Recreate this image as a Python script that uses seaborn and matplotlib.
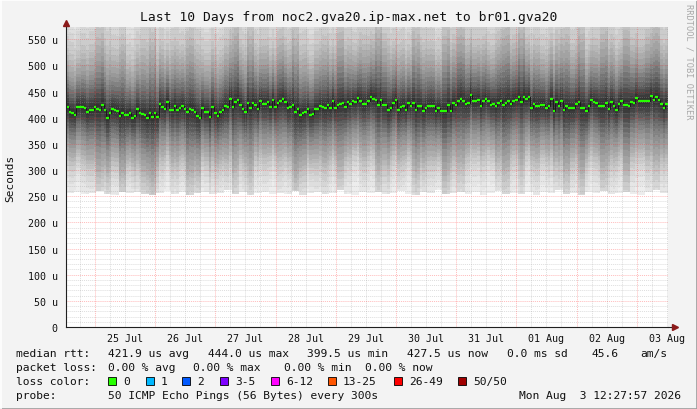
import numpy as np
import pandas as pd
import matplotlib
matplotlib.use("Agg")
import matplotlib.pyplot as plt
import matplotlib.dates as mdates
from matplotlib.ticker import MultipleLocator, FuncFormatter
from matplotlib.patches import Rectangle
from matplotlib.lines import Line2D
import seaborn as sns

# ---------------- data ----------------
title = "Last 10 Days from noc2.gva20.ip-max.net to br01.gva20"
start_time = "2026-07-24 12:28"
n_hours = 240

# hourly median RTT (microseconds), in four chunks of the time axis
median_a = [421.2, 411.0, 409.7, 405.9, 421.2, 421.2, 419.9, 418.6, 410.4, 415.5,
            415.5, 419.9, 416.7, 415.5, 425.0, 415.5, 400.2, 409.1, 416.1, 414.8,
            413.5, 404.0, 409.7, 405.3, 405.9, 409.7, 400.2, 402.7, 416.1, 408.4,
            407.2, 405.9, 400.2, 409.7, 402.1, 409.1, 401.4, 426.3, 421.2, 416.1,
            430.7, 414.8, 414.8, 422.5, 415.5, 418.6, 422.5, 416.1, 410.4, 416.7,
            414.8, 411.0, 404.0, 400.2, 418.6, 411.0, 411.6, 400.8, 421.2, 409.7,
            403.3, 411.0]
median_b = [415.5, 421.8, 419.9, 435.8, 419.9, 429.5, 434.6, 425.0, 416.7, 410.4,
            428.2, 418.6, 427.6, 425.0, 416.7, 431.4, 426.3, 426.3, 429.5, 419.9,
            433.9, 419.9, 428.2, 431.4, 435.8, 429.5, 418.6, 421.2, 425.0, 410.4,
            416.7, 405.3, 409.1, 410.4, 416.7, 405.9, 407.2, 416.7, 416.7, 422.5,
            419.9, 418.6, 425.0, 418.6, 431.4, 418.6, 425.0, 426.3, 428.2, 421.2,
            429.5, 426.3, 431.4, 429.5, 437.7, 432.7, 426.3, 426.3, 431.4, 440.3,
            435.8, 433.9]
median_c = [425.0, 434.6, 425.0, 425.0, 415.5, 418.6, 428.2, 434.6, 415.5, 419.9,
            423.1, 415.5, 428.2, 423.1, 428.2, 415.5, 423.1, 423.1, 413.5, 418.6,
            421.8, 423.1, 421.8, 412.3, 418.6, 413.5, 413.5, 413.5, 425.0, 413.5,
            428.2, 425.0, 432.7, 435.8, 431.4, 426.3, 428.2, 444.1, 431.4, 431.4,
            434.6, 423.1, 431.4, 435.8, 431.4, 425.0, 426.3, 421.8, 428.2, 432.7,
            425.0, 428.2, 431.4, 426.3, 432.7, 434.6, 440.3, 429.5, 440.3, 435.8,
            440.3, 418.6]
median_d = [426.3, 421.8, 423.1, 425.0, 425.0, 418.6, 423.1, 436.5, 412.3, 429.5,
            421.8, 432.7, 415.5, 421.8, 418.6, 418.6, 418.6, 426.3, 429.5, 418.0,
            418.6, 412.3, 423.1, 434.6, 429.5, 428.2, 423.1, 423.1, 423.1, 428.2,
            416.7, 429.5, 423.1, 415.5, 426.3, 431.4, 425.0, 425.0, 423.1, 429.5,
            428.2, 437.7, 431.4, 431.4, 432.7, 432.7, 432.7, 440.9, 434.6, 439.0,
            434.6, 426.3, 418.6, 426.3]

# lowest ping (bottom edge of the smoke), one value per 3 hours
rtt_min = [256, 258, 254, 257, 260, 255, 253, 258, 256, 259,
           254, 252, 257, 260, 255, 258, 253, 256, 259, 254,
           257, 261, 255, 258, 252, 256, 259, 254, 257, 255,
           260, 253, 256, 258, 254, 257, 261, 255, 252, 258,
           256, 259, 254, 257, 260, 255, 253, 258, 256, 262,
           254, 257, 259, 255, 258, 253, 256, 260, 254, 257,
           255, 259, 253, 258, 256, 261, 254, 257, 252, 258,
           256, 260, 254, 257, 259, 255, 253, 258, 262, 256]

# relative width of the smoke (darker streaks = wider), one value per 3 hours
smoke_spread = [0.9, 0.85, 0.95, 1.0, 1.25, 1.1, 0.95, 1.2, 0.9, 1.0,
                1.15, 1.3, 1.0, 0.9, 1.05, 0.95, 1.25, 1.1, 0.9, 1.0,
                0.95, 1.05, 1.3, 1.0, 1.25, 0.95, 1.0, 0.9, 1.1, 1.0,
                1.3, 1.05, 0.9, 1.0, 1.1, 0.95, 1.25, 1.0, 0.9, 1.05,
                1.0, 1.3, 1.1, 0.95, 1.0, 0.9, 1.25, 1.05, 1.0, 0.9,
                1.3, 1.05, 1.25, 1.0, 0.95, 1.0, 0.9, 1.1, 1.3, 1.0,
                1.25, 0.95, 1.05, 0.9, 1.0, 1.1, 1.25, 1.0, 1.3, 0.95,
                1.0, 1.25, 1.05, 0.95, 1.3, 1.0, 0.95, 1.1, 1.25, 1.0]

# smoke layers: gray level, distance below / above the median (us)
smoke_gray = [0.93, 0.90, 0.87, 0.84, 0.80, 0.76, 0.72, 0.68, 0.64, 0.60,
              0.56, 0.51, 0.46, 0.41, 0.36, 0.31, 0.27, 0.23, 0.20]
smoke_below = [None, 170, 152, 138, 126, 114, 104, 96, 86, 76,
               66, 57, 48, 40, 33, 26, 19, 12, 6]
smoke_above = [260, 220, 190, 170, 150, 125, 110, 98, 86, 74,
               66, 57, 48, 39, 31, 24, 18, 12, 7]

legend_rtt = [("median rtt:", 16.4), ("421.9 us avg", 107.6), ("444.0 us max", 207.6),
              ("399.5 us min", 306.7), ("427.5 us now", 406.7), ("0.0 ms sd", 506.7),
              ("45.6", 591.0), ("am/s", 640.0)]
legend_loss = [("packet loss:", 16.4), ("0.00 % avg", 107.6), ("0.00 % max", 193.0),
               ("0.00 % min", 284.4), ("0.00 % now", 365.0)]
loss_labels = ["0", "1", "2", "3-5", "6-12", "13-25", "26-49", "50/50"]
loss_colors = ["#26ff00", "#00b8ff", "#0059ff", "#7e00ff", "#ff00ff", "#ff5500", "#ff0000", "#a10000"]
loss_box_x = [108.4, 145.8, 182.0, 219.6, 270.7, 327.6, 393.8, 457.8]
probe_text = "50 ICMP Echo Pings (56 Bytes) every 300s"
stamp_text = "Mon Aug  3 12:27:57 2026"

# ---------------- figure ----------------
W, H = 697, 410
sns.set_style("white")
plt.rcParams["font.family"] = ["DejaVu Sans Mono", "DejaVu Sans"]

fig = plt.figure(figsize=(W / 100, H / 100), dpi=100, facecolor="#f3f3f3")


def fx(px):
    return px / W


def fy(py):
    return 1 - py / H


ax = fig.add_axes([fx(66), fy(328), 602 / W, 300 / H])
ax.set_facecolor("white")

hours = pd.date_range(start_time, periods=n_hours + 1, freq="h")
xe = mdates.date2num(hours.to_pydatetime())
med = np.array(median_a + median_b + median_c + median_d)
spread_h = np.repeat(np.array(smoke_spread), 3)
min_h = np.repeat(np.array(rtt_min, dtype=float), 3)

for g, lo, hi in zip(smoke_gray, smoke_below, smoke_above):
    if lo is None:
        low = min_h
    else:
        low = np.maximum(med - lo * spread_h, min_h)
    high = med + hi * spread_h
    ax.fill_between(xe, np.append(low, low[-1]), np.append(high, high[-1]),
                    step="post", color=str(g), lw=0, zorder=1)

# grid
ymax = 573.5
dot = (0, (1, 1))
for v in np.arange(10, ymax, 10):
    if v % 50:
        ax.axhline(v, color="#a0a0a0", alpha=0.35, lw=0.7, ls=dot, zorder=2)
six_h = pd.date_range(hours[0].ceil("6h"), hours[-1], freq="6h")
for t in six_h:
    if t.hour != 0:
        ax.axvline(mdates.date2num(t.to_pydatetime()), color="#a0a0a0", alpha=0.35, lw=0.7, ls=dot, zorder=2)
for v in np.arange(50, ymax, 50):
    ax.axhline(v, color="#ff2020", alpha=0.3, lw=0.7, ls=dot, zorder=2.1)
midnights = pd.date_range(hours[0].ceil("D"), hours[-1], freq="D")
for t in midnights:
    ax.axvline(mdates.date2num(t.to_pydatetime()), color="#ff2020", alpha=0.3, lw=0.7, ls=dot, zorder=2.1)

# median: dark connectors and green dashes
med_df = pd.DataFrame({"t": xe, "rtt": np.append(med, med[-1])})
sns.lineplot(data=med_df, x="t", y="rtt", drawstyle="steps-post", color="#1a1a1a",
             lw=0.7, estimator=None, ax=ax, zorder=3)
ax.hlines(med, xe[:-1], xe[1:], colors="#26ff00", lw=1.6, zorder=4)
ax.set_xlim(xe[0], xe[-1])
ax.set_ylim(0, ymax)
ax.yaxis.set_major_locator(MultipleLocator(50))
ax.yaxis.set_minor_locator(MultipleLocator(10))
ax.yaxis.set_major_formatter(FuncFormatter(lambda v, _: "0" if v == 0 else f"{v:.0f} u"))
ax.xaxis.set_major_locator(mdates.HourLocator(byhour=[12]))
ax.xaxis.set_major_formatter(mdates.DateFormatter("%d %b"))
ax.set_xlabel("")
ax.set_ylabel("")

for s in ["top", "right"]:
    ax.spines[s].set_visible(False)
for s in ["left", "bottom"]:
    ax.spines[s].set_color("#202020")
    ax.spines[s].set_linewidth(0.8)
    ax.spines[s].set_zorder(5)

ax.tick_params(axis="y", which="major", direction="out", length=3, width=0.6,
               color="#404040", labelsize=7.2, pad=3, labelcolor="#111111")
ax.tick_params(axis="y", which="minor", direction="out", length=2, width=0.6, color="#404040")
ax.tick_params(axis="x", which="both", length=0, labelsize=7.2, pad=4, labelcolor="#111111")

# arrows
ax.plot([0], [1.012], marker="^", ms=4.5, color="#8b1a1a", transform=ax.transAxes, clip_on=False, zorder=6)
ax.add_line(Line2D([1.0, 1.008], [0, 0], color="#202020", lw=0.8, transform=ax.transAxes, clip_on=False))
ax.plot([1.011], [0], marker=">", ms=4.5, color="#8b1a1a", transform=ax.transAxes, clip_on=False, zorder=6)

# texts
fig.text(0.5, fy(18), title, ha="center", va="center", fontsize=9.4, color="#111111")
fig.text(fx(10), fy(178), "Seconds", rotation=90, ha="center", va="center", fontsize=8.0, color="#111111")
fig.text(fx(689), fy(4), "RRDTOOL / TOBI OETIKER", rotation=270, ha="center", va="top",
         fontsize=6.2, color="#a8a8a8")

LF = 8.1
for txt, px in legend_rtt:
    fig.text(fx(px), fy(354), txt, ha="left", va="center", fontsize=LF, color="#111111")
for txt, px in legend_loss:
    fig.text(fx(px), fy(368), txt, ha="left", va="center", fontsize=LF, color="#111111")
fig.text(fx(16.4), fy(382), "loss color:", ha="left", va="center", fontsize=LF, color="#111111")
for lab, col, bx in zip(loss_labels, loss_colors, loss_box_x):
    fig.add_artist(Rectangle((fx(bx), fy(386)), 8 / W, 8 / H, transform=fig.transFigure,
                             facecolor=col, edgecolor="#000000", lw=0.6))
    fig.text(fx(bx + 15.2), fy(382), lab, ha="left", va="center", fontsize=LF, color="#111111")
fig.text(fx(16.4), fy(396), "probe:", ha="left", va="center", fontsize=LF, color="#111111")
fig.text(fx(107.6), fy(396), probe_text, ha="left", va="center", fontsize=LF, color="#111111")
fig.text(fx(681), fy(396), stamp_text, ha="right", va="center", fontsize=LF, color="#111111")

# frame shading
fig.add_artist(Line2D([0, 1], [fy(409.5), fy(409.5)], transform=fig.transFigure, color="#9c9c9c", lw=1.2))
fig.add_artist(Line2D([fx(696.5), fx(696.5)], [0, 1], transform=fig.transFigure, color="#9c9c9c", lw=1.2))
fig.add_artist(Line2D([0, 1], [fy(0.5), fy(0.5)], transform=fig.transFigure, color="#ffffff", lw=1.2))
fig.add_artist(Line2D([fx(0.5), fx(0.5)], [0, 1], transform=fig.transFigure, color="#ffffff", lw=1.2))

fig.savefig("out.png", dpi=100, facecolor=fig.get_facecolor())
